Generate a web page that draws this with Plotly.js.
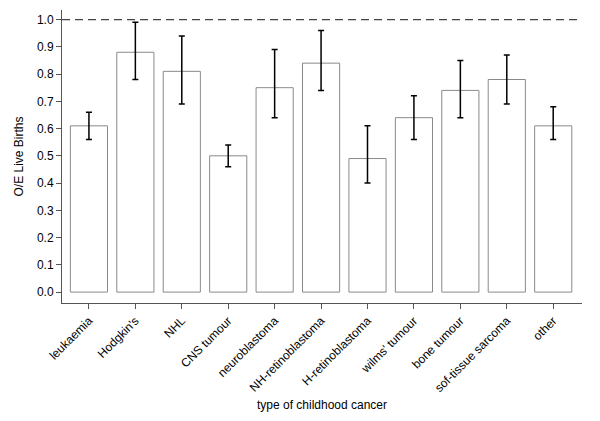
<!DOCTYPE html>
<html><head><meta charset="utf-8">
<script src="https://cdn.plot.ly/plotly-3.0.1.min.js"></script>
<style>html,body{margin:0;padding:0;background:#fff;}#chart{width:600px;height:421px;}</style>
</head><body><div id="chart"></div>
<script>
const categories = ["leukaemia","Hodgkin's","NHL","CNS tumour","neuroblastoma","NH-retinoblastoma","H-retinoblastoma","wilms' tumour","bone tumour","sof-tissue sarcoma","other"];
const ratio = [0.61,0.88,0.81,0.50,0.75,0.84,0.49,0.64,0.74,0.78,0.61];
const upper = [0.66,0.99,0.94,0.54,0.89,0.96,0.61,0.72,0.85,0.87,0.68];
const lower = [0.56,0.78,0.69,0.46,0.64,0.74,0.40,0.56,0.64,0.69,0.56];
const refLine = 1.0;

const errPlus = upper.map((u,i)=>+(u-ratio[i]).toFixed(3));
const errMinus = lower.map((l,i)=>+(ratio[i]-l).toFixed(3));
const idx = categories.map((c,i)=>i);

const font = {family:'"Liberation Sans", Arial, sans-serif', size:12, color:'#000'};
const data = [{
  type:'bar', x:idx, y:ratio, width:0.8,
  marker:{color:'#fff', line:{color:'#8a8a8a', width:1}},
  error_y:{type:'data', symmetric:false, array:errPlus, arrayminus:errMinus, color:'#000', thickness:1.5, width:3},
  hoverinfo:'skip'
},{
  type:'scatter', mode:'lines', x:[-0.58,10.62], y:[refLine,refLine],
  line:{color:'#444', width:1.3, dash:'8px,5px'}, hoverinfo:'skip'
}];
const layout = {
  width:600, height:421, showlegend:false,
  margin:{l:62, r:18, t:10, b:118},
  paper_bgcolor:'#fff', plot_bgcolor:'#fff', font:font,
  xaxis:{range:[-0.58,10.62], tickmode:'array', tickvals:idx, ticktext:categories, tickangle:-45,
    showgrid:false, zeroline:false, showline:true, linecolor:'#555', linewidth:1,
    ticks:'outside', ticklen:5, tickcolor:'#555', tickfont:font,
    title:{text:'type of childhood cancer', font:font, standoff:6}},
  yaxis:{range:[-0.04,1.035], tickmode:'array', tickvals:[0,0.1,0.2,0.3,0.4,0.5,0.6,0.7,0.8,0.9,1.0],
    ticktext:['0.0','0.1','0.2','0.3','0.4','0.5','0.6','0.7','0.8','0.9','1.0'],
    showgrid:false, zeroline:false, showline:true, linecolor:'#555', linewidth:1,
    ticks:'outside', ticklen:5, tickcolor:'#555', tickfont:font,
    title:{text:'O/E Live Births', font:font, standoff:10}}
};
Plotly.newPlot('chart', data, layout, {displayModeBar:false, staticPlot:true});
</script></body></html>
